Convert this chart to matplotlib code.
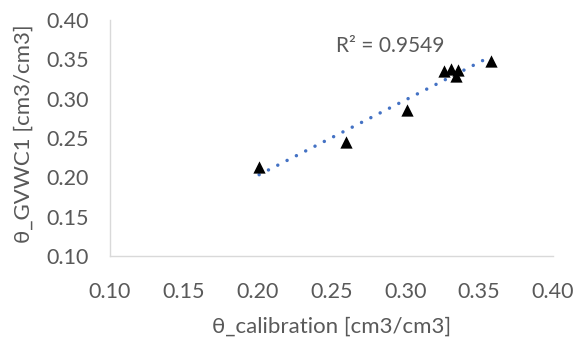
import numpy as np
import matplotlib
matplotlib.use("Agg")
import matplotlib.pyplot as plt

plt.rcParams['font.family'] = ['Lato', 'DejaVu Sans']

x_calib = [0.201, 0.260, 0.301, 0.326, 0.331, 0.336, 0.334, 0.358]
y_gvwc = [0.213, 0.245, 0.286, 0.335, 0.338, 0.337, 0.329, 0.348]
ticks = [0.10, 0.15, 0.20, 0.25, 0.30, 0.35, 0.40]
r2_label = "R² = 0.9549"

fig = plt.figure(figsize=(5.77, 3.45), dpi=100)
ax = fig.add_axes([110/577, 1-256/345, (553-110)/577, (256-20)/345])

grey = '#595959'
ax.scatter(x_calib, y_gvwc, marker='^', s=78, color='black', zorder=3, linewidths=0)

coef = np.polyfit(x_calib, y_gvwc, 1)
xs = np.array([min(x_calib), max(x_calib)])
ax.plot(xs, np.polyval(coef, xs), linestyle=(0, (0.01, 3.0)), color='#4472C4', lw=2.5,
        dash_capstyle='round', zorder=2)

ax.text(0.29, 0.367, r2_label, color=grey, fontsize=15, ha='center', va='center')

ax.set_xlim(0.10, 0.40)
ax.set_ylim(0.10, 0.40)
ax.set_xticks(ticks)
ax.set_yticks(ticks)
ax.set_xticklabels([f"{t:.2f}" for t in ticks])
ax.set_yticklabels([f"{t:.2f}" for t in ticks])
ax.tick_params(length=0, labelsize=15.5, labelcolor=grey)
ax.tick_params(axis='x', pad=18.5)
ax.tick_params(axis='y', pad=15)
for s in ['top', 'right']:
    ax.spines[s].set_visible(False)
for s in ['left', 'bottom']:
    ax.spines[s].set_color('#d9d9d9')
    ax.spines[s].set_linewidth(1)
ax.set_xlabel("θ_calibration [cm3/cm3]", fontsize=16, color=grey, labelpad=11)
ax.set_ylabel("θ_GVWC1 [cm3/cm3]", fontsize=16, color=grey)
ax.yaxis.set_label_coords(-0.172, 0.52)

fig.savefig("out.png", dpi=100)
